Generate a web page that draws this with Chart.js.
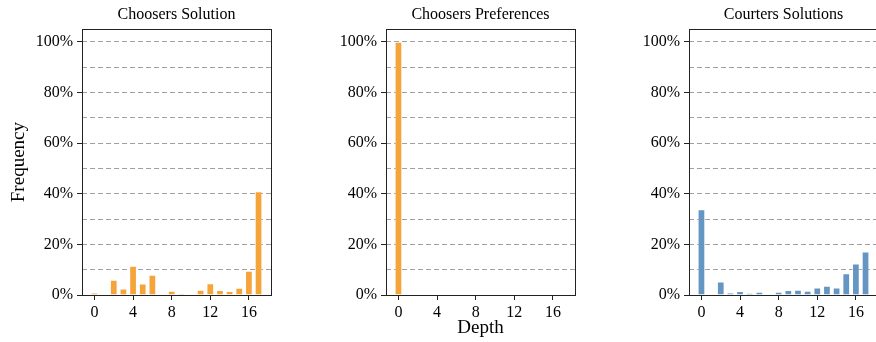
<!DOCTYPE html>
<html>
<head>
<meta charset="utf-8">
<script src="https://cdn.jsdelivr.net/npm/chart.js@4"></script>
<style>
  html, body { margin: 0; padding: 0; background: #fff; overflow: hidden; }
  #wrap { position: relative; width: 876px; height: 342px; }
  .panel { position: absolute; top: 0; }
</style>
</head>
<body>
<div id="wrap">
  <canvas id="ch1" class="panel" style="left:0px" width="280" height="342"></canvas>
  <canvas id="ch2" class="panel" style="left:304px" width="280" height="342"></canvas>
  <canvas id="ch3" class="panel" style="left:607px" width="280" height="342"></canvas>
</div>
<script>
// data (percent)
const depths = [0, 1, 2, 3, 4, 5, 6, 7, 8, 9, 10, 11, 12, 13, 14, 15, 16, 17];
const choosersSolution    = [1.0, 0, 6.0, 2.6, 11.6, 4.5, 8.0, 0, 1.7, 0.5, 0, 2.1, 4.6, 2.0, 1.6, 2.9, 9.6, 41.0];
const choosersPreferences = [100, 0, 0, 0, 0, 0, 0, 0, 0, 0, 0, 0, 0, 0, 0, 0, 0, 0];
const courtersSolutions   = [33.9, 0, 5.3, 1.0, 1.6, 0.7, 1.3, 0, 1.3, 2.0, 2.1, 1.7, 3.0, 3.7, 3.0, 8.6, 12.4, 17.2];
const xTicks = [0, 4, 8, 12, 16];
const yTicks = [0, 10, 20, 30, 40, 50, 60, 70, 80, 90, 100];
const yLabelEvery = 20;

(function () {
  const FONT = "'Liberation Serif', 'DejaVu Serif', serif";
  const ORANGE = '#F5A43A';
  const BLUE = '#6595C3';

  // box around the plot area (matplotlib spines)
  const frame = {
    id: 'frame',
    afterDatasetsDraw(chart) {
      const a = chart.chartArea, ctx = chart.ctx;
      ctx.save();
      ctx.strokeStyle = '#222';
      ctx.lineWidth = 1;
      ctx.strokeRect(Math.round(a.left) + 0.5, Math.round(a.top) + 0.5,
        Math.round(a.right - a.left), Math.round(a.bottom - a.top));
      ctx.restore();
    }
  };

  function panel(id, title, values, color, yTitle, xTitle) {
    new Chart(document.getElementById(id), {
      type: 'bar',
      data: {
        datasets: [{
          data: depths.map((d, i) => ({ x: d, y: values[i] })),
          backgroundColor: color,
          borderColor: 'rgba(255,255,255,0.55)',
          borderWidth: 1,
          borderSkipped: 'bottom',
          barPercentage: 0.8,
          categoryPercentage: 1
        }]
      },
      options: {
        responsive: false,
        animation: false,
        layout: { padding: { left: 0, right: 9, top: 0, bottom: 0 } },
        plugins: {
          legend: { display: false },
          tooltip: { enabled: false },
          title: {
            display: true, text: title, color: '#000', fullSize: false,
            font: { family: FONT, size: 16, weight: 'normal' },
            padding: { top: 5, bottom: 5 }
          }
        },
        scales: {
          x: {
            type: 'linear', min: -1.29, max: 18.29, offset: false,
            afterBuildTicks: s => { s.ticks = xTicks.map(v => ({ value: v })); },
            afterFit: s => { s.height = 47; },
            grid: { display: true, offset: false, drawOnChartArea: false, drawTicks: true, tickLength: 5, tickColor: '#222' },
            border: { display: false },
            ticks: { color: '#000', padding: 3, maxRotation: 0, font: { family: FONT, size: 16 } },
            title: {
              display: !!xTitle, text: xTitle || '', color: '#000',
              font: { family: FONT, size: 19 }, padding: { top: 0, bottom: 3 }
            }
          },
          y: {
            min: 0, max: 105,
            afterBuildTicks: s => { s.ticks = yTicks.map(v => ({ value: v })); },
            afterFit: s => { s.width = 82; },
            grid: {
              color: '#a0a0a0', lineWidth: 1, tickLength: 5,
              tickColor: c => (c.tick && c.tick.value % yLabelEvery === 0) ? '#222' : 'rgba(0,0,0,0)'
            },
            border: { display: false, dash: [5, 3] },
            ticks: {
              color: '#000', padding: 4, font: { family: FONT, size: 16 },
              callback: v => (v % yLabelEvery === 0 ? v + '%' : '')
            },
            title: {
              display: !!yTitle, text: yTitle || '', color: '#000',
              font: { family: FONT, size: 19 }, padding: { top: 8, bottom: 0 }
            }
          }
        }
      },
      plugins: [frame]
    });
  }

  panel('ch1', 'Choosers Solution', choosersSolution, ORANGE, 'Frequency', null);
  panel('ch2', 'Choosers Preferences', choosersPreferences, ORANGE, null, 'Depth');
  panel('ch3', 'Courters Solutions', courtersSolutions, BLUE, null, null);
})();
</script>
</body>
</html>
